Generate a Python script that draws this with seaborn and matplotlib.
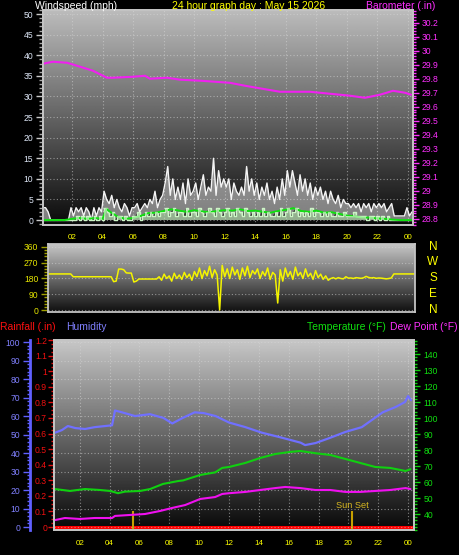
import numpy as np
import matplotlib
matplotlib.use("Agg")
import matplotlib.pyplot as plt
import seaborn as sns
from matplotlib.ticker import MultipleLocator, FixedLocator, FuncFormatter

sns.set_style("dark", {"axes.facecolor": "black", "figure.facecolor": "black"})
plt.rcParams['font.family'] = ['Liberation Sans', 'DejaVu Sans']

# ---- data (hours of the day, 10 min samples from 00:06) ----
gust = [3,3,2,0,0,0, 0,0,0,0,0,3, 1,3,2,3,1,3, 2,0,3,1,3,2, 7,5,4,6,3,5, 3,2,4,3,1,3,
        3,4,2,3,4,3, 5,4,7,3,5,6, 9,13,6,10,5,8, 5,9,4,10,6,7, 9,5,8,11,6,8, 7,15,6,12,8,10,
        8,10,5,9,7,6, 8,6,13,7,10,6, 9,5,8,6,9,5, 7,4,8,5,10,6, 12,8,12,9,6,11, 7,10,6,9,5,8,
        6,8,5,7,4,7, 5,4,6,3,5,4, 4,3,4,3,4,2, 4,3,4,2,4,3, 4,3,4,2,3,4, 1,1,1,1,1,3, 1,2]
speed = [0,0,0,0,0,0, 0,0,0,0,0,0, 0,1,0,1,0,1, 0,0,1,0,1,0, 3,2,1,2,0,1, 1,0,1,0,0,1,
         1,2,0,1,2,1, 2,1,2,1,2,2, 3,1,2,3,1,2, 2,1,3,1,2,2, 1,3,2,1,2,3, 2,1,3,2,1,2,
         3,1,2,1,3,2, 1,3,2,1,2,1, 2,1,3,1,2,1, 1,2,1,3,1,2, 3,1,2,3,1,2, 1,2,1,3,1,2,
         2,1,2,1,2,1, 1,2,1,1,2,1, 1,1,2,1,1,1, 1,0,1,1,0,1, 0,1,0,1,0,0, 0,0,0,0,0,0, 0,0]
wind_dir = [206,206,206,206,206,206, 206,206,206,206,190,190, 190,190,190,190,190,190,
            190,190,190,190,190,190, 190,190,162,165,234,234, 230,212,211,211,160,165,
            177,177,177,177,177,177, 177,177,190,170,205,180, 195,165,210,180,200,175,
            215,185,205,170,220,190, 240,180,225,195,250,185, 230,200,0,255,190,235,
            180,245,200,230,175,240, 195,250,185,225,205,235, 180,220,195,240,175,215,
            200,40,230,165,240,190, 220,175,245,195,215,180, 235,190,210,175,225,185,
            205,175,195,170,180,185, 178,185,180,178,190,182, 183,180,185,183,181,184,
            192,186,183,185,181,183, 182,180,178,180,183,206, 206,206,206,206,206,206, 206,206]
t10 = np.arange(len(gust)) / 6 + 0.1

avg_hours = [0.1,0.5,1,1.5,2,2.5,3,3.5,4,4.25,4.5,5,5.5,6,6.5,7,7.5,8,8.5,9,9.5,10,10.5,11,11.5,
             12,12.5,13,13.5,14,14.5,15,15.5,16,16.5,17,17.5,18,18.5,19,19.5,20,20.5,21,21.5,
             22,22.5,23,23.5,24,24.25]
avg_wind = [0,0,0,0,0.3,0.5,0.3,0.5,0.3,2.7,2.0,0.8,0.3,0.5,1.0,1.7,1.8,2.2,2.6,2.3,2.0,2.4,2.1,
            1.9,2.2,2.4,2.3,2.6,2.2,2.3,2.0,1.8,2.2,2.5,2.9,2.2,2.0,2.3,1.8,1.9,1.5,1.1,0.9,0.6,
            0.6,0.4,0.3,0.1,0,0,0]

baro_hours = [0.1,0.75,1.67,2.52,3.37,4.03,4.29,4.68,5.99,6.78,7.1,8.22,9.07,10.38,12.34,13.33,
              14.44,15.62,16.27,17.58,18.89,20.2,21.18,22.17,23.02,23.81,24.2]
baro = [29.907,29.921,29.914,29.886,29.857,29.821,29.807,29.807,29.814,29.821,29.80,29.807,
        29.793,29.786,29.771,29.75,29.729,29.707,29.707,29.707,29.693,29.679,29.664,29.686,
        29.714,29.70,29.686]

hum_hours = [0.34,0.8,1.2,1.7,2.35,3.0,3.7,4.16,4.36,4.83,5.7,6.7,7.6,8.2,8.9,9.7,10.3,11.1,12.0,
             13.1,14.2,15.4,16.8,17.1,17.8,18.7,19.8,20.9,22.3,23.2,23.8,24.0,24.2]
humidity = [51,52.4,54.6,53.5,53,54,54.6,55,63,62,60,61,59,56,59,62,61.6,60,56.5,54,51,48.6,
            45.6,44.3,45.4,48,51.4,54,62,65,67.6,70.8,68.6]

temp_hours = [0.34,1.34,2.35,3.36,4.03,4.56,5.03,6.04,6.71,7.58,8.59,8.93,10.07,11.07,11.54,
              12.01,13.09,14.09,15.1,16.1,16.78,17.79,18.79,19.8,20.8,21.8,22.8,23.83,24.16]
temperature = [55.6,54.4,55.6,55,54.4,53,54,54.4,55.6,58.8,60.6,61,64.4,66,68.8,69.4,71.9,75,
               77.5,78.8,79.4,78,76.9,74.4,71.9,69.4,68.8,66.9,68]
dew_hours = [0.34,1.0,2.0,3.0,4.16,4.36,5.37,6.37,7.38,8.2,9.06,10.07,11.07,11.54,12.01,13.09,
             14.09,15.1,15.77,16.78,17.79,18.79,19.8,20.8,21.8,22.8,23.83,24.16]
dew_point = [36.2,37.5,36.9,37.5,37.5,38.8,39.4,40,41.9,43.8,45.6,49.4,50.6,52.5,53,53.8,55,
             56.2,56.9,56.2,55,55,53.8,53.8,54.4,55,56.2,55.6]
rain_hours = [0.27, 24.4]
rain = [0, 0]
sun_rise, sun_set = 5.57, 20.27

hour_ticks = list(range(2, 25, 2))
hour_labels = ['02','04','06','08','10','12','14','16','18','20','22','00']

# ---- figure ----
W, H = 459, 555
fig = plt.figure(figsize=(W / 100, H / 100), dpi=100)
fig.patch.set_facecolor('black')


def box(l, t, r, b):
    return [l / W, 1 - b / H, (r - l) / W, (b - t) / H]


def shade(ax, top, bot):
    g = np.linspace(top, bot, 256).reshape(-1, 1)
    ax.imshow(g, extent=(0, 1, 0, 1), transform=ax.transAxes, aspect='auto', cmap='gray',
              vmin=0, vmax=1, zorder=0, interpolation='bilinear')


def frame(ax):
    for s in ax.spines.values():
        s.set_color('#c4c4c4')
        s.set_linewidth(1.3)


fmt = FuncFormatter(lambda v, p: f"{v:.1f}".rstrip('0').rstrip('.') if abs(v) > 1e-9 else "0")
grid_kw = dict(color='#d8d8d8', linestyle=(0, (1, 2)), linewidth=0.8, alpha=0.55)
tick_font = 6.2
yellow = '#ffff00'

# ---------------- top: wind + barometer ----------------
ax_w = fig.add_axes(box(43, 10, 413, 225))
shade(ax_w, 0.74, 0.04)
ax_w.fill_between(t10, speed, gust, color='#f0f0f0', alpha=0.5, linewidth=0, zorder=1.5)
sns.lineplot(x=t10, y=gust, ax=ax_w, color='#f4f4f4', linewidth=1.0,
             estimator=None, sort=False)
ax_w.fill_between(t10, 0, speed, color='#ccf5c6', alpha=0.7, linewidth=0, step='post', zorder=2.5)
sns.lineplot(x=t10, y=speed, ax=ax_w, color='#ccf5c6', linewidth=1.0, drawstyle='steps-post',
             estimator=None, sort=False)
sns.lineplot(x=avg_hours, y=avg_wind, ax=ax_w, color='#10e010', linewidth=1.4,
             estimator=None, sort=False)
ax_w.set_xlim(0.1, 24.33)
ax_w.set_ylim(-1.2, 51)
ax_w.yaxis.set_major_locator(MultipleLocator(5))
ax_w.yaxis.set_minor_locator(MultipleLocator(1))
ax_w.xaxis.set_major_locator(FixedLocator(hour_ticks))
ax_w.set_xticklabels(hour_labels)
ax_w.tick_params(axis='y', which='major', left=True, length=5, width=1, color='#c8c8c8',
                 labelcolor='#dde6f6', labelsize=tick_font, pad=2)
ax_w.tick_params(axis='y', which='minor', left=True, length=3, width=1, color='#a8a8a8')
ax_w.tick_params(axis='x', bottom=False, labelcolor=yellow, labelsize=5.8, pad=3)
ax_w.grid(True, which='major', **grid_kw)
ax_w.set_xlabel('')
ax_w.set_ylabel('')
frame(ax_w)

ax_b = ax_w.twinx()
sns.lineplot(x=baro_hours, y=baro, ax=ax_b, color='#f020f0', linewidth=1.5,
             estimator=None, sort=False)
ax_b.set_xlim(0.1, 24.33)
ax_b.set_ylim(28.757, 30.29)
ax_b.yaxis.set_major_locator(MultipleLocator(0.1))
ax_b.yaxis.set_minor_locator(MultipleLocator(0.02))
ax_b.yaxis.set_major_formatter(fmt)
ax_b.tick_params(axis='y', which='major', right=True, length=4, width=1, color='#ff30ff',
                 labelcolor='#ff30ff', labelsize=tick_font, pad=2)
ax_b.tick_params(axis='y', which='minor', right=True, length=2, width=1, color='#ff30ff')
ax_b.set_ylabel('')
ax_b.grid(False)
frame(ax_b)

# ---------------- middle: wind direction ----------------
ax_d = fig.add_axes(box(48, 244, 415, 312))
shade(ax_d, 0.78, 0.06)
sns.lineplot(x=t10, y=wind_dir, ax=ax_d, color='#f4f400', linewidth=1.1,
             estimator=None, sort=False)
ax_d.set_xlim(0.1, 24.33)
ax_d.set_ylim(-11.4, 377)
ax_d.yaxis.set_major_locator(MultipleLocator(90))
ax_d.yaxis.set_minor_locator(MultipleLocator(18))
ax_d.tick_params(axis='y', which='major', left=True, length=5, width=1, color='#a0a000',
                 labelcolor='#e6e600', labelsize=tick_font, pad=2)
ax_d.tick_params(axis='y', which='minor', left=True, length=3, width=1, color='#a0a000')
ax_d.set_xticks([])
ax_d.yaxis.grid(True, **grid_kw)
ax_d.set_ylabel('')
frame(ax_d)
for lab, yy in zip(['N', 'W', 'S', 'E', 'N'], [247, 262, 278, 294, 310]):
    fig.text(433 / W, 1 - yy / H, lab, color=yellow, fontsize=8.5, ha='center', va='center')

# ---------------- bottom: rain / humidity / temperature ----------------
ax_r = fig.add_axes(box(54, 340, 414, 530))
shade(ax_r, 0.78, 0.03)
sns.lineplot(x=rain_hours, y=rain, ax=ax_r, color='#ff0000', linewidth=2.2,
             estimator=None, sort=False)
ax_r.vlines([sun_rise, sun_set], -0.02, 0.1, color='#c8a000', linewidth=1.5, zorder=3)
ax_r.text(sun_set, 0.107, 'Sun Set', color='#d8b820', fontsize=6.6, ha='center', va='bottom')
ax_r.set_xlim(0.27, 24.4)
ax_r.set_ylim(-0.019, 1.2)
ax_r.yaxis.set_major_locator(MultipleLocator(0.1))
ax_r.yaxis.set_minor_locator(MultipleLocator(0.025))
ax_r.yaxis.set_major_formatter(fmt)
ax_r.xaxis.set_major_locator(FixedLocator(hour_ticks))
ax_r.set_xticklabels(hour_labels)
ax_r.tick_params(axis='y', which='major', left=True, length=4, width=1, color='#e01010',
                 labelcolor='#f01010', labelsize=tick_font, pad=1)
ax_r.tick_params(axis='y', which='minor', left=True, length=2, width=1, color='#e01010')
ax_r.tick_params(axis='x', bottom=False, labelcolor=yellow, labelsize=5.8, pad=4)
ax_r.xaxis.grid(True, **grid_kw)
ax_r.set_ylabel('')
frame(ax_r)

ax_h = ax_r.twinx()
sns.lineplot(x=hum_hours, y=humidity, ax=ax_h, color='#7070ff', linewidth=1.6,
             estimator=None, sort=False)
ax_h.set_xlim(0.27, 24.4)
ax_h.set_ylim(-1.6, 101.1)
ax_h.yaxis.tick_left()
ax_h.spines['left'].set_position(('axes', -24 / 360))
for s in ['right', 'top', 'bottom']:
    ax_h.spines[s].set_visible(False)
ax_h.spines['left'].set_color('#6060ff')
ax_h.spines['left'].set_linewidth(2)
ax_h.yaxis.set_major_locator(MultipleLocator(10))
ax_h.yaxis.set_minor_locator(MultipleLocator(2))
ax_h.tick_params(axis='y', which='major', left=True, length=5, width=1, color='#6060ff',
                 labelcolor='#8080ff', labelsize=tick_font, pad=2)
ax_h.tick_params(axis='y', which='minor', left=True, length=2.5, width=1, color='#6060ff')
ax_h.yaxis.grid(True, **grid_kw)
ax_h.set_ylabel('')

ax_t = ax_r.twinx()
sns.lineplot(x=temp_hours, y=temperature, ax=ax_t, color='#10d010', linewidth=1.5,
             estimator=None, sort=False)
sns.lineplot(x=dew_hours, y=dew_point, ax=ax_t, color='#f010f0', linewidth=1.5,
             estimator=None, sort=False)
ax_t.set_xlim(0.27, 24.4)
ax_t.set_ylim(30, 148.75)
ax_t.set_yticks(range(40, 141, 10))
ax_t.yaxis.set_minor_locator(MultipleLocator(2))
ax_t.tick_params(axis='y', which='major', right=True, length=4, width=1, color='#10d010',
                 labelcolor='#10e010', labelsize=tick_font, pad=3)
ax_t.tick_params(axis='y', which='minor', right=True, length=2, width=1, color='#10d010')
ax_t.set_ylabel('')
ax_t.grid(False)
frame(ax_t)

# ---------------- titles ----------------
def ftxt(x, y, s, c, ha='left', size=7.5):
    fig.text(x / W, 1 - y / H, s, color=c, fontsize=size, ha=ha, va='center')

ftxt(35, 6, 'Windspeed (mph)', '#ffffff')
ftxt(249, 6, '24 hour graph day : May 15 2026', yellow, ha='center')
ftxt(435, 6, 'Barometer (.in)', '#ff30ff', ha='right')
ftxt(0, 327, 'Rainfall (.in)', '#ff1010')
ftxt(66, 327, 'Humidity', '#8080ff')
ftxt(386, 327, 'Temperature (°F)', '#10e010', ha='right')
ftxt(458, 327, 'Dew Point (°F)', '#ff30ff', ha='right')

fig.savefig('out.png', dpi=100, facecolor='black')
